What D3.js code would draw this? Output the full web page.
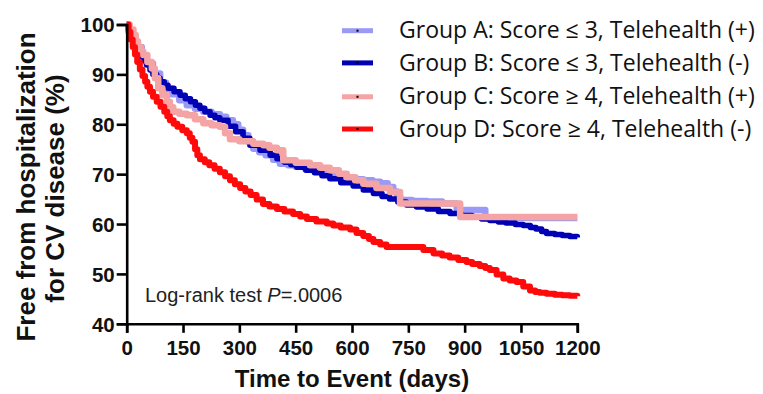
<!DOCTYPE html>
<html><head><meta charset="utf-8">
<script src="https://cdn.jsdelivr.net/npm/d3@7"></script>
<style>body{margin:0;background:#fff}svg{display:block}</style>
</head><body>
<svg id="c" width="763" height="394"></svg>
<script>
// ---- data (days, % free from hospitalization) ----
const daysA = [0,5,10,18,27,40,53,70,89,105,120,140,160,182,204,226,248,265,283,297,310,324,337,353,370,390,408,430,450,475,497,520,541,565,590,610,630,655,675,695,710,720,728,760,800,840,879,955,1200];
const survA = [100,99,98,96.7,95.5,93.8,92.2,90.2,88.3,87.1,86,84.8,83.8,83.1,82.5,82,81.5,80.8,80,78.9,77.8,76.5,75.1,74.4,73.8,72.9,72.1,71.8,71.5,71.1,70.8,70.3,69.8,69.5,69.3,69,68.8,68.5,68.2,67.4,66.5,65.6,64.8,64.6,64.5,64.1,62.8,61.2,61.2];
const daysB = [0,5,10,18,27,33,40,47,53,62,70,80,89,100,110,126,142,156,170,183,195,208,222,235,248,270,290,310,328,355,382,400,420,437,453,477,500,520,541,570,603,630,657,680,700,722,745,772,800,830,861,890,920,945,967,990,1010,1035,1056,1075,1090,1105,1118,1140,1160,1180,1200];
const survB = [100,99,98,96.5,95.2,94.3,93.5,92.7,91.9,90.9,90,89.2,88.5,87.8,87.2,86.5,85.8,85.1,84.5,83.8,83.2,82.5,81.8,81.3,80.8,79.6,78.5,77.2,75.8,74.8,73.8,73.1,72.4,71.9,71.4,70.8,70.3,69.7,69.1,68.3,67.6,66.8,66.1,65.5,65,64.4,63.8,63.4,63,62.5,62.1,61.7,61.4,61,60.7,60.4,60.2,59.9,59.7,59.3,59,58.5,58.1,57.9,57.7,57.5,57.3];
const daysC = [0,8,18,24,30,37,44,55,67,75,84,95,107,115,124,140,160,182,204,226,248,262,275,300,337,364,380,400,417,450,488,515,541,565,586,608,630,665,701,728,879,888,1200];
const survC = [100,99,97.9,96.6,95.5,94.6,93.9,92.5,91.2,89.2,87.2,85.8,84.5,83.4,82.5,82.1,81.8,81,80.2,79.8,79.5,78.2,77,76.6,76.1,75.8,75.3,74.8,72.8,72.3,71.8,71.3,70.8,70.1,69.4,68.8,68.1,67.2,66.4,64.1,64.1,61.4,61.4];
const daysD = [0,5,10,16,22,28,35,42,49,55,62,70,80,90,100,108,115,125,135,148,160,168,175,182,188,195,208,220,234,248,262,275,288,302,316,330,346,363,380,400,420,443,462,480,505,533,550,570,595,612,630,645,657,675,692,763,790,817,840,860,883,905,920,940,955,967,985,1003,1020,1038,1056,1074,1088,1100,1118,1140,1160,1180,1200];
const survD = [100,98.5,97,95.5,94,92.5,91,89.7,88.5,87.5,86.5,85.5,84.5,83.5,82.5,81.6,80.8,80.1,79.5,78.8,78.2,77.3,76.5,75,73.8,73,72.4,71.8,71.1,70.4,69.6,68.8,68,67.2,66.5,65.8,64.9,64,63.5,63,62.5,62,61.5,61,60.5,60.1,59.7,59.3,58.9,58.2,57.6,57,56.4,55.9,55.4,55.4,54.8,54.1,53.7,53.3,52.8,52.4,52,51.6,51.2,50.8,49.9,49.1,48.7,48.4,47.5,46.7,46.4,46.2,46,45.8,45.7,45.6,45.5];

const groupLabels = ["Group A: Score \u2264 3, Telehealth (+)","Group B: Score \u2264 3, Telehealth (-)","Group C: Score \u2265 4, Telehealth (+)","Group D: Score \u2265 4, Telehealth (-)"];
const xTicks = [0,150,300,450,600,750,900,1050,1200];
const yTicks = [40,50,60,70,80,90,100];
const xTitle = "Time to Event (days)";
const yTitle = ["Free from hospitalization","for CV disease (%)"];

// ---- layout ----
const svg = d3.select("#c");
const x = d3.scaleLinear().domain([0,1200]).range([126.7,577.3]);
const y = d3.scaleLinear().domain([40,100]).range([323.8,24.5]);
const colors = ["#9a9af6","#0000b4","#f4a4a4","#ff0a0a"];
const widths = [6.5,5.5,6.5,6];

const series = [[daysA,survA],[daysB,survB],[daysC,survC],[daysD,survD]];
const line = d3.line().x(d=>x(d[0])).y(d=>y(d[1])).curve(d3.curveStepAfter);
series.forEach((s,i)=>{
  const pts = s[0].map((d,j)=>[d,s[1][j]]);
  svg.append("path").datum(pts).attr("d",line)
    .attr("fill","none").attr("stroke",colors[i]).attr("stroke-width",widths[i])
    .attr("stroke-linejoin","round").attr("stroke-linecap","butt");
});

// axes
const fontAx = "'Liberation Sans', Arial, sans-serif";
const xAxis = svg.append("g").attr("transform",`translate(0,${y(40)})`)
  .call(d3.axisBottom(x).tickValues(xTicks).tickSize(9).tickPadding(8).tickFormat(d3.format("d")));
const yAxis = svg.append("g").attr("transform",`translate(${x(0)},0)`)
  .call(d3.axisLeft(y).tickValues(yTicks).tickSize(10).tickPadding(2).tickFormat(d3.format("d")));
[xAxis,yAxis].forEach(g=>{
  g.select(".domain").attr("stroke","#000").attr("stroke-width",2.6);
  g.selectAll(".tick line").attr("stroke","#000").attr("stroke-width",2.6);
  g.selectAll(".tick text").attr("fill","#111").style("font-family",fontAx).style("font-weight","bold").style("font-size","20.5px");
});
yAxis.selectAll(".tick text").attr("dy","0.36em");

// titles
svg.append("text").attr("x",352).attr("y",387).attr("text-anchor","middle")
  .style("font-family",fontAx).style("font-weight","bold").style("font-size","24px").attr("fill","#111").text(xTitle);
yTitle.forEach((t,i)=>{
  svg.append("text").attr("transform",`translate(${35+i*29},${187+i*1.5}) rotate(-90)`)
    .attr("text-anchor","middle").style("font-family",fontAx).style("font-weight","bold")
    .style("font-size","26px").attr("fill","#111").text(t);
});

// log-rank annotation
const lr = svg.append("text").attr("x",145).attr("y",302).style("font-family",fontAx)
  .style("font-size","20px").attr("fill","#222");
lr.append("tspan").text("Log-rank test ");
lr.append("tspan").style("font-style","italic").text("P");
lr.append("tspan").text("=.0006");

// legend
const legY = [30.7,62.9,96.8,129];
const leg = svg.append("g");
groupLabels.forEach((t,i)=>{
  leg.append("line").attr("x1",342).attr("x2",373).attr("y1",legY[i]).attr("y2",legY[i])
    .attr("stroke",colors[i]).attr("stroke-width",5);
  leg.append("rect").attr("x",356.5).attr("y",legY[i]-1).attr("width",2).attr("height",2).attr("fill","#000");
  leg.append("text").attr("x",399).attr("y",legY[i]+7.6).style("font-family","'Open Sans', sans-serif")
    .style("font-size","21px").attr("fill","#111").text(t);
});
// fit legend font so first label spans the reference width
const w0 = leg.select("text").node().getComputedTextLength();
const fs = 21*356/w0;
leg.selectAll("text").style("font-size",fs+"px");
</script>
</body></html>
